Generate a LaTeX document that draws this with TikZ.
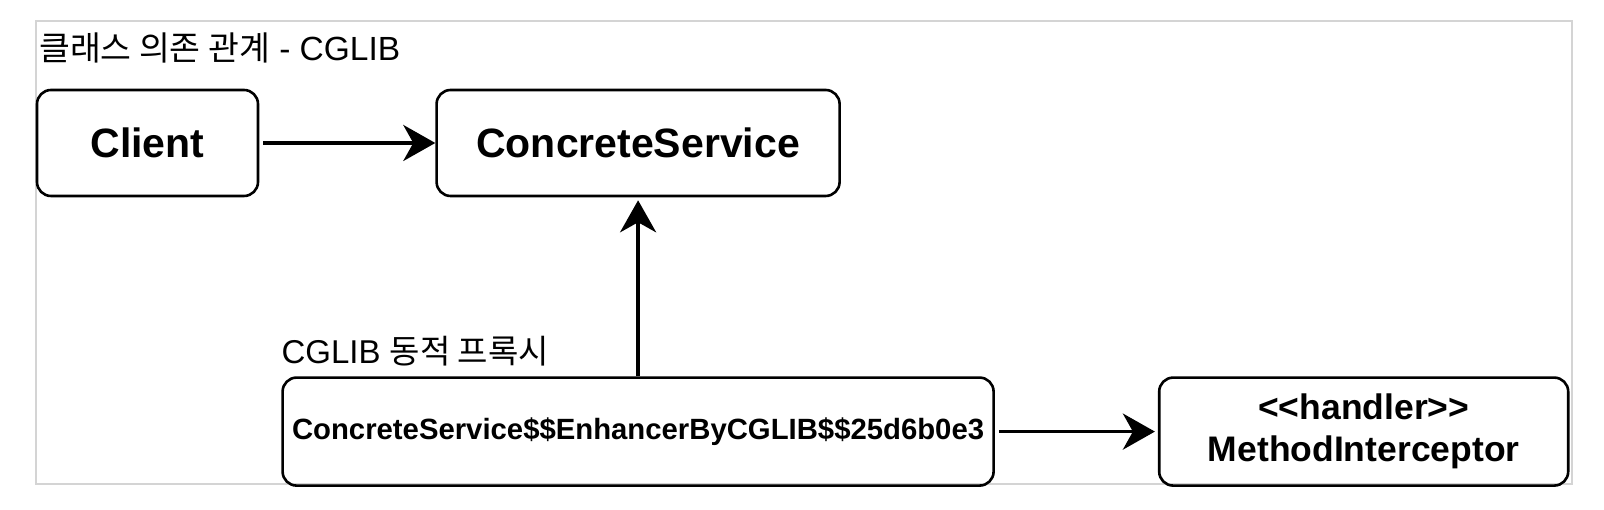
\documentclass[tikz,border=0pt]{standalone}
\usepackage{fontspec}
\setmainfont{Liberation Sans}
\newfontfamily\krfont{Noto Sans CJK KR}
\usetikzlibrary{arrows.meta, positioning}
\definecolor{framegray}{RGB}{212,212,212}
\tikzset{
    box/.style={
        draw,
        line width=2.6pt,
        rounded corners=14pt,
        align=center,
        inner sep=0pt
    },
    bigbox/.style={
        box,
        minimum height=106pt,
        font=\bfseries\fontsize{41}{46}\selectfont
    },
    lowbox/.style={
        box,
        minimum height=108pt
    },
    line/.style={line width=3.8pt, -{Stealth[length=32pt, width=36pt, inset=10pt]}},
    caption/.style={font=\fontsize{33}{38}\selectfont, inner sep=0pt}
}

\begin{document}
\begin{tikzpicture}[x=1pt, y=1pt]
\useasboundingbox (0,0) rectangle (1604,510);
\draw[framegray, line width=2pt] (36,489) rectangle (1572,26);

\node[caption, anchor=west, font=\fontsize{33.5}{38}\selectfont] (title) at (39,462) {{\krfont 클래스 의존 관계} - CGLIB};

\node[bigbox, minimum width=221pt] (client) at (147.5,367) {Client};
\node[bigbox, minimum width=403pt, right=176pt of client] (concrete) {ConcreteService};

% proxy row
\node[lowbox, minimum width=711pt, below=179pt of concrete,
      font=\bfseries\fontsize{29.3}{33}\selectfont] (proxy) {ConcreteService\$\$EnhancerByCGLIB\$\$25d6b0e3};
\node[lowbox, minimum width=409pt, right=163pt of proxy,
      font=\bfseries\fontsize{35.5}{42}\selectfont] (handler) {<\kern0pt<handler>\kern0pt>\\MethodInterceptor};
\node[caption, above=10pt of proxy.north west, anchor=south west] (proxylbl) {CGLIB {\krfont 동적 프록시}};

\draw[line, shorten <=4pt] (client) -- (concrete);
\draw[line, shorten >=3pt] (proxy) -- (concrete);
\draw[line, shorten <=4pt, shorten >=3pt] (proxy) -- (handler);
\end{tikzpicture}
\end{document}
